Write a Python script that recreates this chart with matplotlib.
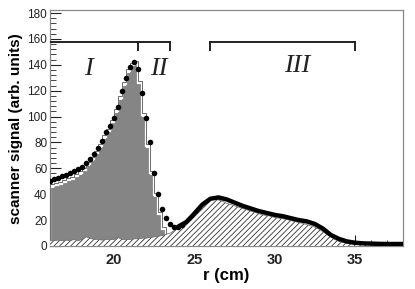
import numpy as np
import matplotlib
matplotlib.use('Agg')
from matplotlib import pyplot as plt
from matplotlib.ticker import MultipleLocator

plt.rcParams['font.family'] = ['Liberation Sans', 'DejaVu Sans']
plt.rcParams['hatch.linewidth'] = 0.6

# measured points (black dots), 0.25 cm spacing
r_dots = np.arange(16.0, 24.26, 0.25)
v_dots = [50, 51.5, 52.8, 53.8, 55, 56.4, 57.8, 59.3, 61.2, 64, 67.5, 71,
          75.5, 81.5, 88, 92.5, 99, 107.5, 120, 129.5, 138.5, 142.5, 137, 118,
          99, 80, 56, 40, 28.5, 21.5, 17, 15, 15, 16.5]

# measured tail (dense points -> thick line)
r_tail = np.arange(24.0, 38.01, 0.5)
v_tail = [15, 18.5, 25, 32, 36.5, 37.5, 36, 33.5, 31, 29, 27, 25.5, 24, 23, 21.5,
          20, 19, 17, 13.5, 8.5, 5.5, 3.5, 2.5, 2, 1.8, 1.6, 1.5, 1.5, 1.5]

# gray histogram (regions I + II), bin edges 16 .. 23.5
gray_edges = np.arange(16.0, 23.51, 0.25)
gray_vals = [45, 46, 47, 48.5, 50, 51, 53, 55, 58, 62, 66, 71, 76, 83, 88, 95,
             103, 113, 124, 134, 139, 140, 125, 100, 76, 55, 38, 24, 12, 4]

# hatched histogram (region III), 0.25 cm spacing 16 .. 38
r_hatch = np.arange(16.0, 38.01, 0.25)
v_hatch = [4, 4, 4.5, 4, 4.5, 4, 5, 4, 5, 7, 6, 5, 5, 4.5, 5, 5, 5, 6.5, 5, 5,
           5, 5.5, 5.5, 6, 6, 6.5, 7, 7.5,
           8, 9, 10, 12,
           14.5, 17, 20, 23,
           27, 30.5, 33.5, 35.5,
           36, 36, 35.5, 34.5,
           33, 32, 31, 30,
           29, 28, 27, 26,
           25, 24, 23.5, 23,
           22, 21.5, 21, 20.5,
           19.5, 19, 18, 17.5,
           16.5, 15.5, 14.5, 13,
           11, 9, 7, 5,
           3.5, 2.5, 2, 1.5,
           1, 1, 1, 1, 1, 1, 1, 1, 1, 1, 1, 1, 1]

brackets = [(16.0, 23.5, 21.5), (26.0, 35.0, None)]
labels = [('I', 18.4, 137), ('II', 22.8, 137), ('III', 31.4, 139)]

fig = plt.figure(figsize=(4.15, 2.89), dpi=100)
ax = fig.add_axes([0.1205, 0.149, 0.8505, 0.8147])

# gray histogram with white/dark outline
gv = np.array(gray_vals)
ax.stairs(gv, gray_edges, fill=True, color='#858585', lw=0, zorder=2)
ax.stairs(gv + 1.0, gray_edges, color='white', lw=1.6, zorder=3)
ax.stairs(gv + 2.6, gray_edges, color='#555555', lw=0.6, zorder=3)

# hatched contribution
ax.fill_between(r_hatch, 0, v_hatch, facecolor='white', edgecolor='#333333',
                hatch='//////', lw=0, zorder=4)
ax.plot(r_hatch, v_hatch, color='#666666', lw=0.5, zorder=4)

# data
ax.plot(r_tail, v_tail, color='black', lw=3.2, solid_capstyle='round', zorder=5)
ax.plot(r_dots, v_dots, 'o', color='black', ms=4, mec='none', zorder=6)

# brackets
for x0, x1, xm in brackets:
    ax.plot([x0, x1], [158, 158], color='#222222', lw=1.4, zorder=7)
    for xx in (x0, x1, xm):
        if xx is not None and xx > 16.0:
            ax.plot([xx, xx], [158, 151.5], color='#222222', lw=1.4, zorder=7)
for txt, xx, yy in labels:
    ax.text(xx, yy, txt, family='Liberation Serif', style='italic', fontsize=19,
            ha='center', va='center', color='#222222')

ax.set_xlim(16, 38)
ax.set_ylim(0, 182)
ax.xaxis.set_major_locator(MultipleLocator(5))
ax.xaxis.set_minor_locator(MultipleLocator(1))
ax.yaxis.set_major_locator(MultipleLocator(20))
ax.yaxis.set_minor_locator(MultipleLocator(4))
ax.tick_params(which='both', direction='in', top=False, right=False,
               colors='#222222')
ax.tick_params(which='major', length=8, width=0.8)
ax.tick_params(which='minor', length=4, width=0.6)
ax.tick_params(axis='y', labelsize=8.5, pad=2)
ax.tick_params(axis='x', labelsize=10.5, pad=5)
for lab in ax.get_xticklabels():
    lab.set_fontweight('bold')
for s in ax.spines.values():
    s.set_color('#888888')
    s.set_linewidth(0.9)

ax.set_xlabel('r (cm)', fontsize=12, fontweight='bold', labelpad=1)
ax.set_ylabel('scanner signal (arb. units)', fontsize=11, fontweight='bold', labelpad=3)

plt.savefig('out.png', dpi=100)
